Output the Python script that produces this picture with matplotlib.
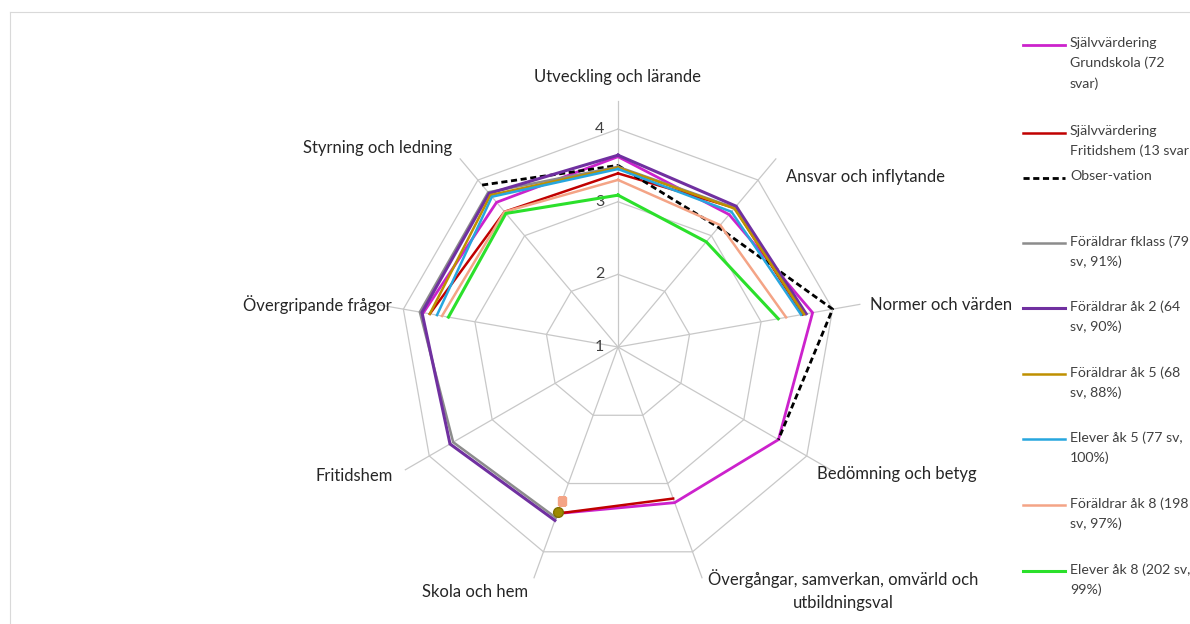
import numpy as np
import matplotlib
matplotlib.use('Agg')
import matplotlib.pyplot as plt
from matplotlib.lines import Line2D

plt.rcParams['font.family'] = ['Lato', 'DejaVu Sans']

nan = np.nan

# --- data (clockwise from top) ---
categories = [
    'Utveckling och lärande', 'Ansvar och inflytande', 'Normer och värden',
    'Bedömning och betyg', 'Övergångar, samverkan, omvärld och\nutbildningsval',
    'Skola och hem', 'Fritidshem', 'Övergripande frågor', 'Styrning och ledning',
]
sjalv_grund = [3.62, 3.38, 3.72, 3.55, 3.28, 3.44, nan, 3.72, 3.60]
sjalv_frit = [3.39, 3.50, 3.58, nan, 3.22, 3.44, nan, 3.63, 3.43]
observation = [3.50, 3.15, 4.00, 3.55, nan, nan, nan, nan, 3.91]
foraldrar_fklass = [3.48, 3.50, 3.60, nan, nan, 3.50, 3.62, 3.77, 3.78]
foraldrar_ak2 = [3.64, 3.53, 3.63, nan, nan, 3.54, 3.67, 3.74, 3.76]
foraldrar_ak5 = [3.47, 3.49, 3.60, nan, nan, 3.41, nan, 3.63, 3.73]
elever_ak5 = [3.45, 3.43, 3.56, nan, nan, nan, nan, 3.53, 3.70]
foraldrar_ak8 = [3.30, 3.19, 3.35, nan, nan, 3.25, nan, 3.46, 3.43]
elever_ak8 = [3.09, 2.89, 3.24, nan, nan, nan, nan, 3.37, 3.40]

series_labels = [
    'Självvärdering\nGrundskola (72\nsvar)',
    'Självvärdering\nFritidshem (13 svar',
    'Obser-vation',
    'Föräldrar fklass (79\nsv, 91%)',
    'Föräldrar åk 2 (64\nsv, 90%)',
    'Föräldrar åk 5 (68\nsv, 88%)',
    'Elever åk 5 (77 sv,\n100%)',
    'Föräldrar åk 8 (198\nsv, 97%)',
    'Elever åk 8 (202 sv,\n99%)',
]
series = [sjalv_grund, sjalv_frit, observation, foraldrar_fklass, foraldrar_ak2,
          foraldrar_ak5, elever_ak5, foraldrar_ak8, elever_ak8]
ticks = [1, 2, 3, 4]

# --- styles ---
styles = [
    dict(color='#CC22CC', lw=2.0, ls='-'),
    dict(color='#C00000', lw=1.8, ls='-'),
    dict(color='black', lw=2.0, ls=(0, (2.2, 1.3))),
    dict(color='#8C8C8C', lw=1.8, ls='-'),
    dict(color='#7030A0', lw=2.2, ls='-'),
    dict(color='#BF9000', lw=1.8, ls='-'),
    dict(color='#27A6DE', lw=1.8, ls='-'),
    dict(color='#F4A486', lw=1.8, ls='-'),
    dict(color='#2BE02B', lw=2.2, ls='-'),
]
markers = ['o', 'o', 'o', 'o', 'o', 'o', 'o', 's', 'o']

W, H = 1190, 624
fig = plt.figure(figsize=(W / 100, H / 100), dpi=100)

# chart frame (light border top / left)
fig.add_artist(Line2D([10 / W, 1], [1 - 12 / H, 1 - 12 / H], transform=fig.transFigure,
                      color='#D9D9D9', lw=0.8))
fig.add_artist(Line2D([10 / W, 10 / W], [0, 1 - 12 / H], transform=fig.transFigure,
                      color='#D9D9D9', lw=0.8))

cx, cy, R = 618, 347, 247
ax = fig.add_axes([(cx - R) / W, (H - cy - R) / H, 2 * R / W, 2 * R / H], projection='polar')
ax.set_theta_offset(np.pi / 2)
ax.set_theta_direction(-1)
rmin, rmax = 1, 4.4
ax.set_ylim(rmin, rmax)
ax.grid(False)
ax.spines['polar'].set_visible(False)
ax.set_xticks([])
ax.set_yticks([])
ax.patch.set_alpha(0)

n = len(categories)
theta = np.arange(n) * 2 * np.pi / n
theta_c = np.append(theta, theta[0])

grid_col = '#C8C8C8'
for t in theta:
    ax.plot([t, t], [rmin, 4.38], color=grid_col, lw=0.9, zorder=1)
for v in ticks[1:]:
    ax.plot(theta_c, [v] * (n + 1), color=grid_col, lw=0.9, zorder=1)
for v in ticks:
    ax.annotate(str(v), xy=(0, v), xytext=(-10, 0), textcoords='offset points',
                ha='right', va='center', fontsize=11.5, color='#404040')

for i, (vals, st) in enumerate(zip(series, styles)):
    v = np.array(vals, dtype=float)
    ax.plot(theta_c, np.append(v, v[0]), color=st['color'], lw=st['lw'],
            ls=st['ls'], zorder=3 + i, solid_joinstyle='miter')
    # isolated points get a marker
    for k in range(n):
        if not np.isnan(v[k]) and np.isnan(v[k - 1]) and np.isnan(v[(k + 1) % n]):
            mc = '#9C8A00' if markers[i] == 'o' else st['color']
            ax.plot(theta[k], v[k], marker=markers[i], ms=7 if markers[i] == 'o' else 6,
                    color=mc, mec='#7F7000' if markers[i] == 'o' else st['color'],
                    ls='none', zorder=20 - i)

# category labels (pixel positions, y from top)
lab_pos = [
    (618, 77, 'center'), (786, 177, 'left'), (870, 305, 'left'),
    (817, 474, 'left'), (843, 590, 'center'), (475, 592, 'center'),
    (393, 476, 'right'), (392, 305, 'right'), (452, 148, 'right'),
]
for text, (x, y, ha) in zip(categories, lab_pos):
    fig.text(x / W, 1 - y / H, text, ha=ha, va='center', fontsize=12,
             color='#262626', multialignment='center', linespacing=1.5)

# legend
leg_y = [45, 133, 178, 243, 308, 374, 439, 505, 571]
for lab, st, y in zip(series_labels, styles, leg_y):
    fig.add_artist(Line2D([1023 / W, 1065 / W], [1 - y / H, 1 - y / H],
                          transform=fig.transFigure, color=st['color'],
                          lw=st['lw'], ls=st['ls']))
    fig.text(1070 / W, 1 - (y - 8) / H, lab, ha='left', va='top', fontsize=10.2,
             color='#404040', linespacing=1.75)

fig.savefig('out.png', dpi=100)
